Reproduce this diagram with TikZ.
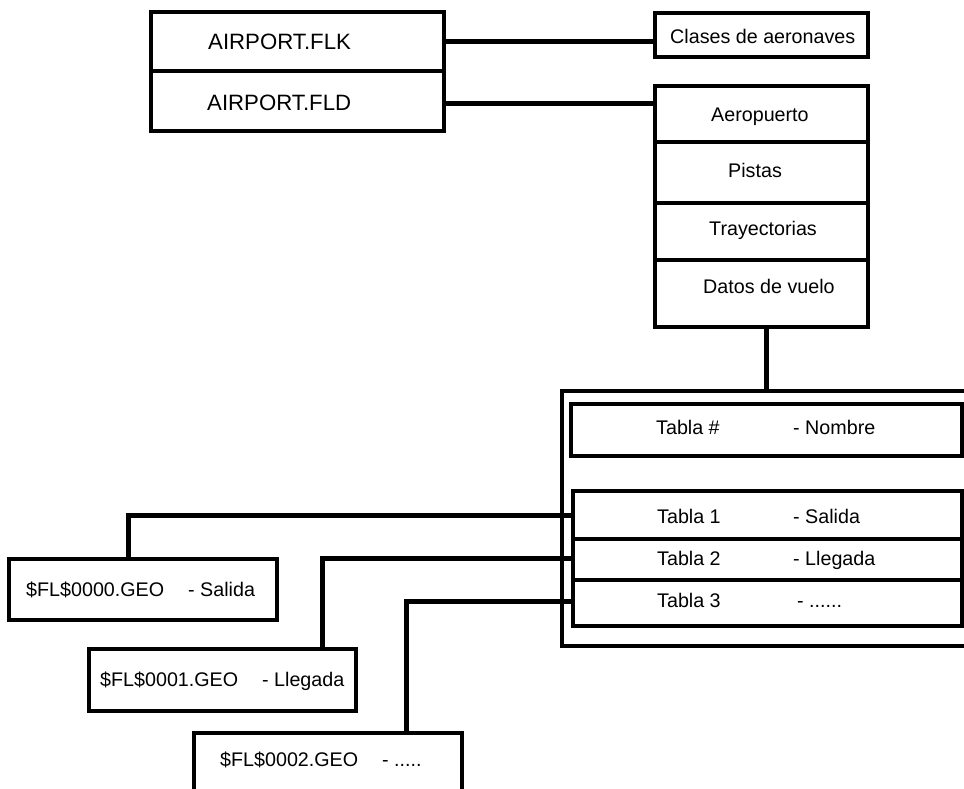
\documentclass[tikz,border=0pt]{standalone}
\usepackage{fontspec}
\setmainfont{Liberation Sans}
\usetikzlibrary{calc,fit}
\tikzset{
  box/.style={draw, line width=3.8pt, rectangle, inner sep=0pt, outer sep=0pt},
  wire/.style={draw, line width=4.2pt},
  lbl/.style={anchor=base west, inner sep=0pt, font=\fontsize{19.7}{22}\selectfont},
  biglbl/.style={lbl, font=\fontsize{22.2}{25}\selectfont},
}
\begin{document}
\begin{tikzpicture}[x=1pt, y=-1pt]
  \clip (0,0) rectangle (964,788);
  \fill[white] (0,0) rectangle (964,788);

  % file records
  \node[box, fit={(151,12) (444,71)}] (flk) {};
  \node[box, fit={(151,71) (444,131)}] (fld) {};
  \node[biglbl] (tflk) at (208,49) {AIRPORT.FLK};
  \node[biglbl] (tfld) at (207,110) {AIRPORT.FLD};

  % aircraft classes
  \node[box, fit={(655,13) (868,57)}] (clases) {};
  \node[lbl] (tclases) at (670,43) {Clases de aeronaves};

  % airport data sections
  \node[box, fit={(655,86) (868,142)}] (aero) {};
  \node[box, fit={(655,142) (868,203)}] (pistas) {};
  \node[box, fit={(655,203) (868,260)}] (tray) {};
  \node[box, fit={(655,260) (868,327)}] (datos) {};
  \node[lbl] (taero) at (711,121) {Aeropuerto};
  \node[lbl] (tpistas) at (728,177) {Pistas};
  \node[lbl] (ttray) at (709,235) {Trayectorias};
  \node[lbl] (tdatos) at (703,293) {Datos de vuelo};

  % flight data table
  \node[box, line width=3.4pt, fit={(562,391) (990,646)}] (outer) {};
  \node[box, fit={(571,404) (962,456)}] (nombre) {};
  \node[box, fit={(573,491) (962,539)}] (t1) {};
  \node[box, fit={(573,539) (962,580)}] (t2) {};
  \node[box, fit={(573,580) (962,626)}] (t3) {};
  \node[lbl] (tn1) at (656,434) {Tabla \#};
  \node[lbl] (tn2) at (793,434) {- Nombre};
  \node[lbl] (ta1) at (657,523) {Tabla 1};
  \node[lbl] (ta2) at (793,523) {- Salida};
  \node[lbl] (tb1) at (657,565) {Tabla 2};
  \node[lbl] (tb2) at (793,565) {- Llegada};
  \node[lbl] (tc1) at (657,607) {Tabla 3};
  \node[lbl] (tc2) at (797,607) {- ......};

  % trajectory files
  \node[box, fit={(9,559) (277,620)}] (geo0) {};
  \node[box, fit={(89,649) (356,711)}] (geo1) {};
  \node[box, fit={(194,733) (462,820)}] (geo2) {};
  \node[lbl] (tg0a) at (26,596) {\$FL\$0000.GEO};
  \node[lbl] (tg0b) at (188,596) {- Salida};
  \node[lbl] (tg1a) at (100,686) {\$FL\$0001.GEO};
  \node[lbl] (tg1b) at (262,686) {- Llegada};
  \node[lbl] (tg2a) at (220,766) {\$FL\$0002.GEO};
  \node[lbl] (tg2b) at (382,766) {- .....};

  % connectors
  \path[wire] (flk.east) -- (flk.east -| clases.west);
  \path[wire] ([yshift=-2.5pt]fld.east) -- ([yshift=-2.5pt]fld.east -| aero.west);
  \coordinate (drop) at ([xshift=5pt]datos.south);
  \path[wire] (drop) -- (drop |- outer.north);
  \coordinate (g0) at ([xshift=-14.5pt]geo0.north);
  \coordinate (g1) at ([xshift=100pt]geo1.north);
  \coordinate (g2) at ([xshift=78.5pt]geo2.north);
  \path[wire] ([yshift=-0.5pt]t1.west) -| (g0);
  \path[wire] ([yshift=1pt]t2.west) -| (g1);
  \path[wire] ([yshift=1.5pt]t3.west) -| (g2);
\end{tikzpicture}
\end{document}
